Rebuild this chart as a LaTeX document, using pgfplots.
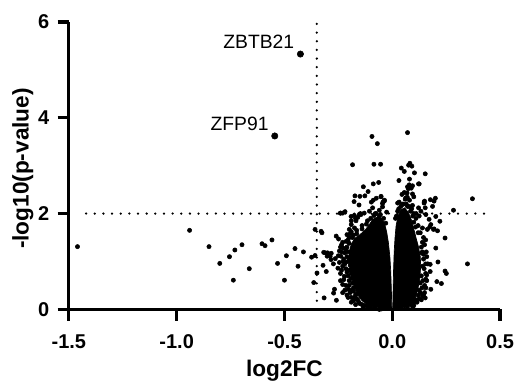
\documentclass[border=0pt]{standalone}
\usepackage{fontspec}
\setmainfont{Liberation Sans}
\usepackage{pgfplots}
\pgfplotsset{compat=1.18}
\begin{document}
\begin{tikzpicture}
\begin{axis}[name=ax,
  width=324pt, height=216pt, scale only axis,
  xmin=-1.5, xmax=0.5, ymin=0, ymax=6,
  xtick={-1.5,-1,-0.5,0,0.5}, xticklabels={-1.5,-1.0,-0.5,0.0,0.5},
  ytick={0,2,4,6}, yticklabels={0,2,4,6},
  axis x line*=bottom, axis y line*=left,
  axis line style={line width=2.4pt, black},
  xtick style={line width=2.4pt, black},
  ytick style={line width=2.4pt, black},
  major tick length=8.5pt, tick align=outside,
  ticklabel style={font=\fontsize{15}{18}\selectfont\bfseries, inner sep=1pt},
  xticklabel style={yshift=-9.5pt},
  yticklabel style={xshift=-5pt},
  xlabel={log2FC}, ylabel={-log10(p-value)},
  every axis x label/.style={at={(axis description cs:0.5,-0.212)}, anchor=center, inner sep=0pt,
     font=\fontsize{17}{20}\selectfont\bfseries},
  every axis y label/.style={at={(axis description cs:-0.1065,0.49)}, anchor=center, rotate=90, inner sep=0pt,
     font=\fontsize{17}{20}\selectfont\bfseries},
  clip=false,
]
% dense core of the two lobes
\addplot[draw=black, fill=black, line width=0.5pt] coordinates {
(-0.002,0.0) (-0.004,0.4) (-0.007,0.8) (-0.011,1.1) (-0.018,1.4) (-0.026,1.62)
(-0.036,1.8) (-0.05,1.9) (-0.07,1.93) (-0.09,1.88) (-0.105,1.78) (-0.125,1.66)
(-0.15,1.56) (-0.175,1.48) (-0.19,1.36) (-0.2,1.2) (-0.2,1.0) (-0.195,0.8)
(-0.185,0.6) (-0.175,0.45) (-0.16,0.3) (-0.14,0.18) (-0.115,0.1) (-0.085,0.05)
(-0.05,0.02) (-0.02,0.0) (-0.002,0.0)};
\addplot[draw=black, fill=black, line width=0.5pt] coordinates {
(0.002,0.0) (0.004,0.4) (0.006,0.8) (0.009,1.2) (0.013,1.5) (0.018,1.75)
(0.027,1.95) (0.04,2.08) (0.058,2.12) (0.075,2.02) (0.088,1.88) (0.1,1.68)
(0.11,1.5) (0.122,1.3) (0.13,1.1) (0.132,0.9) (0.128,0.65) (0.12,0.45)
(0.108,0.25) (0.09,0.12) (0.065,0.05) (0.035,0.01) (0.002,0.0)};
% threshold lines
\addplot[black, line width=1.9pt, line cap=round, dash pattern=on 0pt off 6.5pt] coordinates {(-1.42,2) (0.463,2)};
\addplot[black, line width=1.9pt, line cap=round, dash pattern=on 0pt off 6.5pt] coordinates {(-0.35,0) (-0.35,6)};
% individual proteins
\addplot[only marks, mark=*, mark size=1.6pt, mark options={line width=0.4pt}, black] coordinates {
(-1.46,1.31) (-0.94,1.65) (-0.85,1.31) (-0.80,0.96) (-0.755,1.10) (-0.73,1.24)
(-0.737,0.61) (-0.697,1.35) (-0.663,0.85) (-0.604,1.37) (-0.59,1.33) (-0.558,1.45)
(-0.532,0.96) (-0.50,0.61) (-0.491,1.12) (-0.451,1.27) (-0.437,0.90) (-0.412,1.20)
(-0.374,1.09) (-0.364,0.56) (-0.358,1.67) (-0.33,1.63) (-0.326,1.60) (-0.358,1.125)
(-0.349,0.76) (-0.318,1.19) (-0.31,1.18) (-0.30,1.18) (-0.302,1.11) (-0.321,0.92)
(-0.306,0.79) (-0.316,0.24) (-0.288,1.11) (-0.273,0.95) (-0.264,1.06) (-0.268,0.42)
(-0.272,0.34) (-0.259,0.19) (-0.23,0.52) (-0.241,2.01) (-0.23,2.01) (-0.283,1.17)
(-0.284,1.04) (-0.245,1.22) (-0.238,1.11) (-0.26,1.53) (-0.249,1.47) (-0.222,0.69)
(-0.214,1.42) (-0.21,1.56) (-0.199,1.67) (-0.19,1.77) (-0.168,1.85) (-0.16,1.92)
(-0.145,1.98) (-0.13,2.01)
(-0.235,1.35) (-0.228,1.28) (-0.22,1.18) (-0.225,1.05) (-0.218,0.98) (-0.23,0.9)
(-0.215,0.85) (-0.21,0.78) (-0.225,0.62) (-0.2,0.6) (-0.215,0.5) (-0.205,0.42)
(-0.195,0.35) (-0.21,0.3) (-0.19,0.25) (-0.18,0.18) (-0.2,1.5) (-0.195,1.58)
(-0.205,1.2) (-0.2,1.05) (-0.195,0.92) (-0.21,1.3) (-0.19,0.75) (-0.185,0.55)
(-0.17,0.3) (-0.165,0.22) (-0.155,0.15) (-0.14,0.1) (-0.12,0.08) (-0.1,0.06)
(-0.24,0.75) (-0.245,0.98) (-0.25,1.12) (-0.252,0.86) (-0.24,0.6)
(-0.094,3.61) (-0.069,3.46) (0.071,3.69) (-0.184,3.02) (-0.085,3.03) (-0.054,3.03)
(0.082,3.05) (0.076,3.01) (0.091,2.99) (0.042,2.95) (0.056,2.88) (0.103,2.85)
(0.153,2.83) (0.031,2.69) (0.08,2.72) (0.122,2.62) (-0.088,2.62) (-0.063,2.65)
(0.074,2.52) (0.088,2.53) (0.069,2.43) (0.10,2.35) (-0.134,2.56) (-0.112,2.46)
(-0.173,2.37) (-0.15,2.36) (-0.127,2.37) (-0.177,2.25) (-0.154,2.18) (-0.097,2.24)
(-0.088,2.28) (-0.074,2.32) (-0.052,2.35) (-0.036,2.28) (-0.043,2.24) (0.15,2.26)
(0.177,2.29) (0.20,2.32) (0.372,2.31) (0.284,2.07) (-0.191,1.94) (-0.153,1.98)
(-0.219,2.04) (-0.239,2.01) (0.221,1.84) (0.245,1.49) (0.202,1.28) (0.174,1.72)
(0.191,1.67) (0.21,1.64) (0.212,0.99) (0.349,0.95) (0.245,0.80) (0.251,0.75)
(0.207,0.58) (0.228,0.54) (0.176,0.94) (0.176,0.79) (0.156,0.45) (0.136,1.18)
(0.179,0.42) (0.153,0.24) (0.156,0.63) (0.163,1.67) (0.194,1.68) (0.179,1.77)
(0.148,2.24) (0.153,2.12) (0.094,2.17) (0.111,2.0) (0.08,2.28) (0.07,2.34)
(0.079,2.60) (0.094,2.58) (0.071,2.56) (0.125,2.62) (0.056,2.44) (0.094,2.41)
(-0.052,2.36) (-0.037,2.26) (-0.045,2.21) (0.032,2.24) (0.063,2.33) (0.048,2.19)
(0.071,2.15) (0.025,2.22) (0.148,2.22) (0.194,2.26) (0.187,2.15) (0.122,2.12)
(0.133,2.05) (0.156,1.98) (0.171,1.88) (0.202,1.94)
(-0.106,2.05) (-0.091,2.12) (-0.079,2.0) (-0.060,2.07) (-0.045,2.14) (-0.026,2.03)
(-0.176,1.96) (-0.148,2.0)
(0.14,1.2) (0.145,1.05) (0.14,0.9) (0.135,0.7) (0.13,0.55) (0.125,0.4) (0.12,0.3)
(0.11,0.2) (0.1,0.15) (0.085,0.1) (0.15,1.35) (0.145,1.5) (0.13,1.6) (0.12,1.75)
(0.11,1.9) (0.1,2.0) (0.155,0.75) (0.16,0.6) (0.15,0.5) (0.145,0.3) (0.135,0.2)
(0.165,0.95) (0.16,1.1) (0.14,1.7) (0.125,1.95) (0.09,2.1) (0.05,2.2) (0.03,2.1)
(0.02,1.95) (0.06,2.3) (0.045,2.4)
(-0.06,1.95) (-0.085,1.96) (-0.115,1.85) (-0.14,1.75) (-0.165,1.65) (-0.185,1.5)
(-0.2,1.38) (-0.205,1.0) (-0.2,0.82) (-0.19,0.65) (-0.18,0.45) (-0.165,0.32)
(-0.135,0.05) (-0.08,0.02) (-0.05,0.01) (0.04,0.02) (0.07,0.05) (0.1,0.08)
(-0.205,1.45) (-0.215,1.25) (-0.21,1.1) (-0.22,0.95) (-0.205,0.7) (-0.2,0.5)
(-0.195,0.4) (-0.18,0.38) (-0.175,0.25) (-0.16,0.2) (-0.15,0.12) (-0.13,0.08)
(-0.11,0.05) (-0.165,1.58) (-0.18,1.55) (-0.19,1.62) (-0.14,1.68) (-0.12,1.78)
(-0.1,1.9) (-0.075,2.0) (-0.055,1.98) (-0.04,1.9) (-0.03,1.8) (-0.175,1.7)
(-0.19,1.85) (-0.17,1.9) (-0.23,1.4) (-0.235,1.2) (-0.24,1.3) (-0.228,1.0)
(-0.235,0.82) (-0.22,0.4) (-0.23,0.35) (-0.205,0.25) (-0.19,0.15) (-0.17,0.1)
(-0.085,0.02) (-0.06,0.0)
(0.135,1.3) (0.14,1.4) (0.145,1.15) (0.148,0.85) (0.142,0.6) (0.138,0.45)
(0.13,0.35) (0.125,0.22) (0.115,0.15) (0.095,0.05) (0.12,1.6) (0.108,1.72)
(0.1,1.82) (0.095,1.95) (0.085,2.05) (0.078,2.15) (0.065,2.2) (0.04,2.15)
(0.025,2.05) (0.015,1.9) (0.155,0.95) (0.158,1.2) (0.155,1.45) (0.16,0.72)
(0.15,0.35) (0.14,0.28)
};
% labelled hits
\addplot[only marks, mark=*, mark size=2.4pt, mark options={line width=0.4pt}, black] coordinates {(-0.426,5.33) (-0.545,3.62)};
\node[font=\fontsize{14.5}{17}\selectfont] at (axis cs:-0.619,5.59) {ZBTB21};
\node[font=\fontsize{14.5}{17}\selectfont] at (axis cs:-0.708,3.875) {ZFP91};
\end{axis}
\path ([xshift=-51.75pt,yshift=-54.75pt]ax.south west) rectangle ([xshift=12pt,yshift=16.5pt]ax.north east);
\end{tikzpicture}
\end{document}
